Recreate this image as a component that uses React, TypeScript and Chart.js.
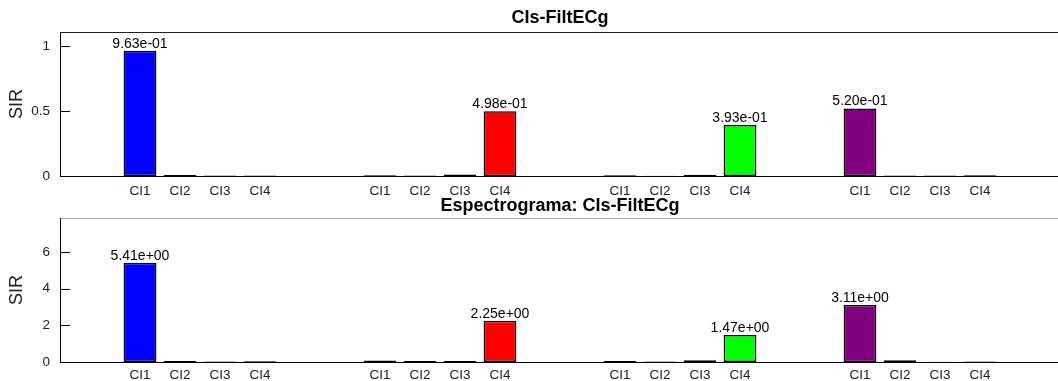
import React, { useEffect, useRef } from 'react';
import { Chart, registerables } from 'chart.js';

Chart.register(...registerables);

// ---- data ----
const categories = ['CI1', 'CI2', 'CI3', 'CI4'];
const groupColors = ['#0000FF', '#FF0000', '#00FF00', '#800080'];

const filtBlue = [0.963, 0.008, 0.004, 0.004];
const filtRed = [0.006, 0.003, 0.012, 0.498];
const filtGreen = [0.005, 0.002, 0.009, 0.393];
const filtPurple = [0.52, 0.004, 0.003, 0.005];

const specBlue = [5.41, 0.05, 0.03, 0.04];
const specRed = [0.08, 0.05, 0.05, 2.25];
const specGreen = [0.06, 0.03, 0.1, 1.47];
const specPurple = [3.11, 0.09, 0.02, 0.03];

const filtTicks = [0, 0.5, 1];
const specTicks = [0, 2, 4, 6];
const filtMax = 1.108;
const specMax = 7.85;

const FONT = 'Arial, "Liberation Sans", Helvetica, sans-serif';
const EDGE_SLOTS = 2;
const GAP_SLOTS = 2;

function formatSci(v: number): string {
  const [m, e] = v.toExponential(2).split('e');
  const n = parseInt(e, 10);
  return m + 'e' + (n < 0 ? '-' : '+') + String(Math.abs(n)).padStart(2, '0');
}

function buildSlots(groups: number[][]) {
  const labels: string[] = [];
  const values: (number | null)[] = [];
  const colors: string[] = [];
  const blank = () => {
    labels.push('');
    values.push(null);
    colors.push('rgba(0,0,0,0)');
  };
  for (let i = 0; i < EDGE_SLOTS; i++) blank();
  groups.forEach((g, gi) => {
    if (gi > 0) for (let i = 0; i < GAP_SLOTS; i++) blank();
    g.forEach((v, ci) => {
      labels.push(categories[ci]);
      values.push(v);
      colors.push(groupColors[gi]);
    });
  });
  for (let i = 0; i < EDGE_SLOTS; i++) blank();
  return { labels, values, colors };
}

function makeConfig(
  groups: number[][],
  yMax: number,
  yTicks: number[],
  title: string,
  topBorder: string,
  xHeight: number,
  xPad: number,
  titlePad: { top: number; bottom: number }
): any {
  const { labels, values, colors } = buildSlots(groups);
  const axesPlugin = {
    id: 'matlabAxes',
    afterDatasetsDraw(chart: any) {
      const { ctx, chartArea: a, scales } = chart;
      const ys = scales.y;
      ctx.save();
      // top border
      ctx.strokeStyle = topBorder;
      ctx.lineWidth = 1;
      ctx.beginPath();
      ctx.moveTo(a.left, Math.round(a.top) + 0.5);
      ctx.lineTo(a.right, Math.round(a.top) + 0.5);
      ctx.stroke();
      // left and bottom axis
      ctx.strokeStyle = '#000';
      ctx.beginPath();
      ctx.moveTo(Math.round(a.left) + 0.5, a.top);
      ctx.lineTo(Math.round(a.left) + 0.5, a.bottom);
      ctx.moveTo(a.left, Math.round(a.bottom) + 0.5);
      ctx.lineTo(a.right, Math.round(a.bottom) + 0.5);
      // inward y ticks
      ys.ticks.forEach((t: any) => {
        const py = Math.round(ys.getPixelForValue(t.value)) + 0.5;
        ctx.moveTo(a.left, py);
        ctx.lineTo(a.left + 10, py);
      });
      ctx.stroke();
      // value labels
      const meta = chart.getDatasetMeta(0);
      ctx.fillStyle = '#000';
      ctx.font = '14px ' + FONT;
      ctx.textAlign = 'center';
      ctx.textBaseline = 'alphabetic';
      meta.data.forEach((bar: any, i: number) => {
        const v = values[i];
        if (v == null || v < 0.1 * yMax) return;
        ctx.fillText(formatSci(v), bar.x, bar.y - 3);
      });
      ctx.restore();
    },
  };
  return {
    type: 'bar',
    data: {
      labels,
      datasets: [
        {
          data: values,
          backgroundColor: colors,
          borderColor: '#000',
          borderWidth: 1.5,
          borderSkipped: false,
          barPercentage: 0.82,
          categoryPercentage: 1,
        },
      ],
    },
    options: {
      animation: false,
      responsive: false,
      layout: { padding: { left: 0, right: 4, top: 0, bottom: 0 } },
      plugins: {
        legend: { display: false },
        tooltip: { enabled: false },
        title: {
          display: true,
          text: title,
          fullSize: false,
          color: '#000',
          font: { family: FONT, size: 18, weight: 'bold' },
          padding: titlePad,
        },
      },
      scales: {
        x: {
          type: 'category',
          offset: false,
          grid: { display: false },
          border: { display: false },
          ticks: {
            autoSkip: false,
            maxRotation: 0,
            minRotation: 0,
            padding: xPad,
            color: '#222',
            font: { family: FONT, size: 13.5 },
          },
          afterFit(scale: any) {
            scale.height = xHeight;
          },
        },
        y: {
          min: 0,
          max: yMax,
          grid: { display: false },
          border: { display: false },
          afterBuildTicks(scale: any) {
            scale.ticks = yTicks.map((v) => ({ value: v }));
          },
          ticks: {
            padding: 2,
            color: '#222',
            font: { family: FONT, size: 13.5 },
            callback: (v: any) => String(v),
          },
          title: {
            display: true,
            text: 'SIR',
            color: '#222',
            font: { family: FONT, size: 18 },
            padding: { top: 6, bottom: 0 },
          },
          afterFit(scale: any) {
            scale.width = 60;
          },
        },
      },
    },
    plugins: [axesPlugin],
  };
}

function BarPanel(props: {
  groups: number[][];
  yMax: number;
  yTicks: number[];
  title: string;
  topBorder: string;
  height: number;
  xHeight: number;
  xPad: number;
  titlePad: { top: number; bottom: number };
  top: number;
}) {
  const ref = useRef<HTMLCanvasElement | null>(null);
  useEffect(() => {
    if (!ref.current) return;
    const chart = new Chart(
      ref.current,
      makeConfig(
        props.groups,
        props.yMax,
        props.yTicks,
        props.title,
        props.topBorder,
        props.xHeight,
        props.xPad,
        props.titlePad
      )
    );
    return () => chart.destroy();
  }, []);
  return (
    <canvas
      ref={ref}
      width={1064}
      height={props.height}
      style={{ position: 'absolute', left: 0, top: props.top, width: 1064, height: props.height }}
    />
  );
}

export default function App() {
  return (
    <div
      style={{
        position: 'fixed',
        left: 0,
        top: 0,
        width: 1058,
        height: 381,
        overflow: 'hidden',
        background: '#fff',
      }}
    >
      <BarPanel
        groups={[filtBlue, filtRed, filtGreen, filtPurple]}
        yMax={filtMax}
        yTicks={filtTicks}
        title="CIs-FiltECg"
        topBorder="#222"
        height={199}
        xHeight={23}
        xPad={-1}
        titlePad={{ top: 7, bottom: 3.4 }}
        top={0}
      />
      <BarPanel
        groups={[specBlue, specRed, specGreen, specPurple]}
        yMax={specMax}
        yTicks={specTicks}
        title="Espectrograma: CIs-FiltECg"
        topBorder="#aaa"
        height={189}
        xHeight={19}
        xPad={-3}
        titlePad={{ top: 3, bottom: 1.4 }}
        top={192}
      />
    </div>
  );
}
